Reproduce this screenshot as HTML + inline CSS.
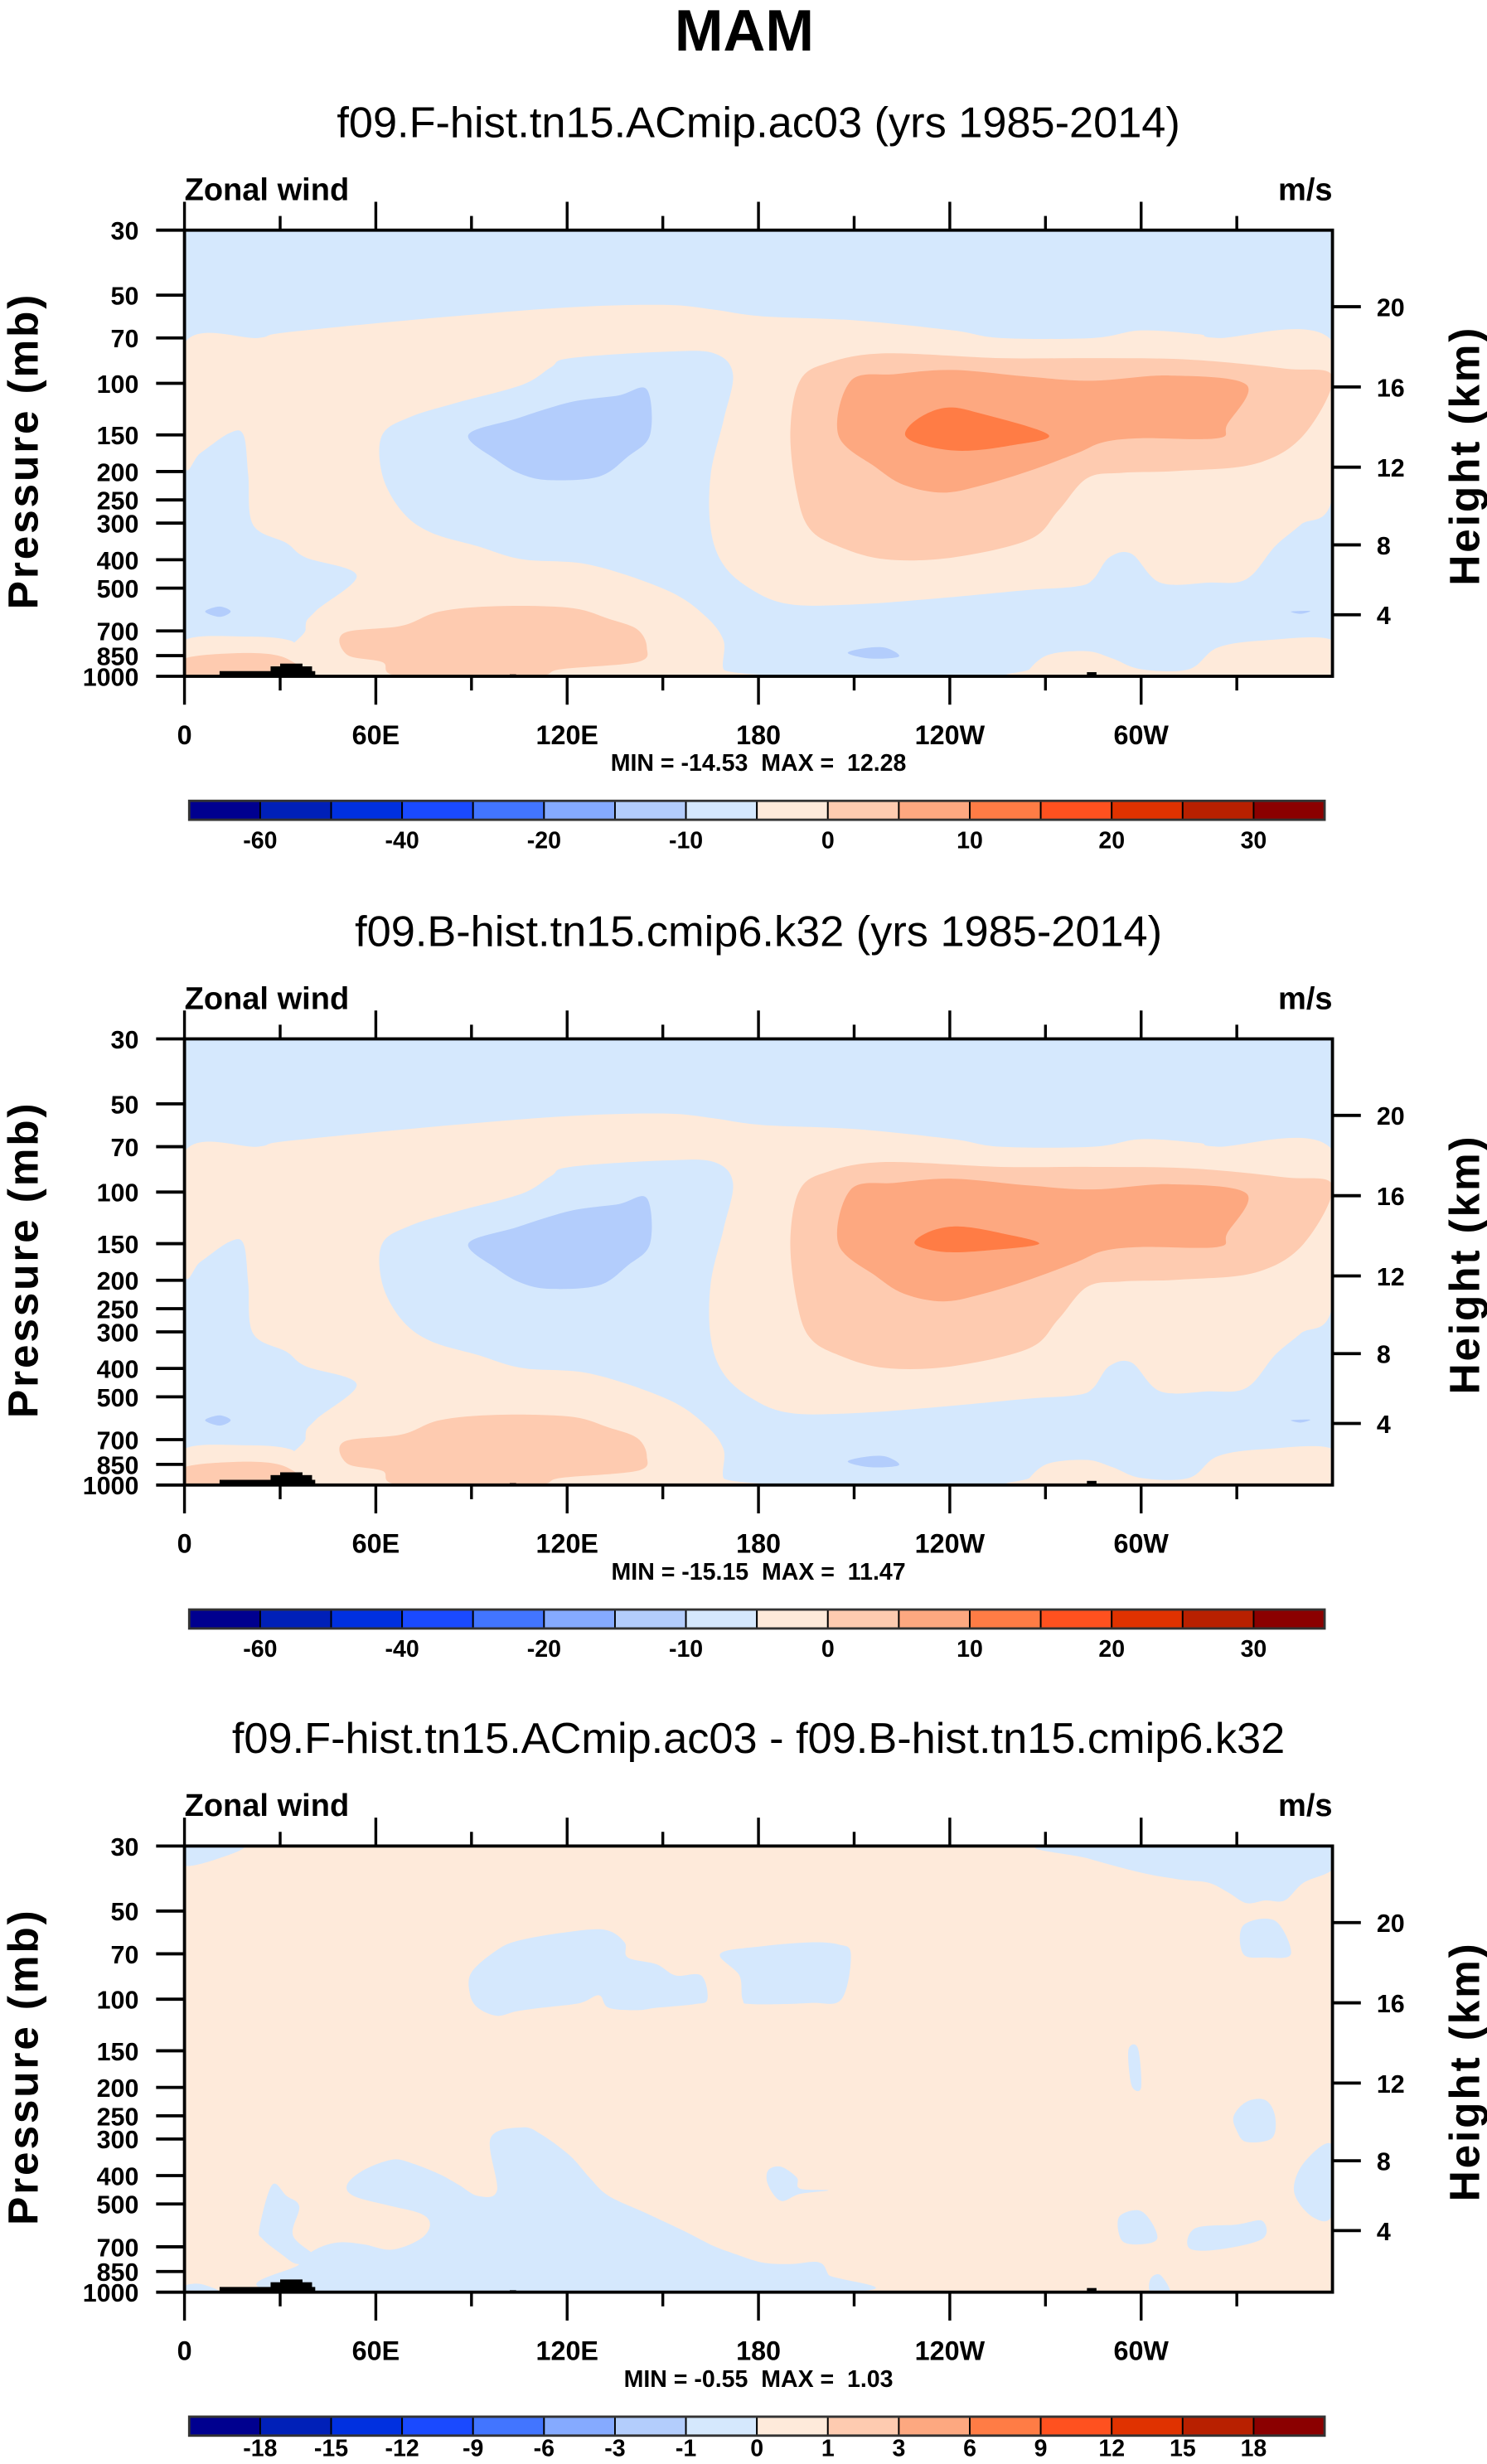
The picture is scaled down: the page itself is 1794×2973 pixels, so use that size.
<!DOCTYPE html>
<html><head><meta charset="utf-8"><style>
html,body{margin:0;padding:0;background:#fff;}
svg{display:block;}
text{font-family:"Liberation Sans",Arial,sans-serif;fill:#000;white-space:pre;}
</style></head><body>
<svg id="fig" xmlns="http://www.w3.org/2000/svg" width="1794" height="2973" viewBox="0 0 943 1563" preserveAspectRatio="none">
<text x="472" y="32" text-anchor="middle" font-size="37" font-weight="bold">MAM</text>
</svg>
<script>
// ---------- data ----------
const lonTicks = [0, 60, 120, 180, 240, 300];
const lonLabels = ["0", "60E", "120E", "180", "120W", "60W"];
const presTicks = [30, 50, 70, 100, 150, 200, 250, 300, 400, 500, 700, 850, 1000];
const heightTicks = [20, 16, 12, 8, 4];
const cbColors = ["#00008f","#0020b8","#0030e0","#1a4aff","#4275ff","#85aaff","#b3cdfc","#d5e8fd","#feeada","#fecbb0","#fda880","#ff7c45","#ff511f","#e03200","#b82000","#8b0000"];
const cbLabelsAbs = ["-60","","-40","","-20","","-10","","0","","10","","20","","30"];
const cbLabelsDiff = ["-18","-15","-12","-9","-6","-3","-1","0","1","3","6","9","12","15","18"];
const titles = ["f09.F-hist.tn15.ACmip.ac03 (yrs 1985-2014)","f09.B-hist.tn15.cmip6.k32 (yrs 1985-2014)","f09.F-hist.tn15.ACmip.ac03 - f09.B-hist.tn15.cmip6.k32"];
const minVals = ["-14.53","-15.15","-0.55"];
const maxVals = ["12.28","11.47","1.03"];
// contour regions [lon, pressure]
const peachMain = [[0,73],[23,70],[32,67],[77,60],[121,55],[151,54],[166,56],[181,59],[211,61],[241,66],[256,70],[285,70],[300,66],[318,68],[324,70],[360,72],[360,243],[350,304],[342,360],[333,466],[321,479],[306,479],[297,382],[290,393],[285,466],[280,493],[265,507],[241,536],[211,568],[190,568],[178,507],[169,416],[165,313],[165,205],[169,134],[172,93],[166,79],[151,78],[121,82],[115,88],[106,101],[86,116],[71,130],[62,150],[62,205],[68,272],[77,322],[92,360],[106,399],[127,416],[151,507],[163,618],[169,754],[169,946],[174,1000],[41,1000],[38,692],[41,601],[54,453],[38,393],[32,351],[21.5,304],[20,205],[18.5,150],[14,148],[5,173],[0,188]];
const peachBL = [[0,754],[20,732],[33,754],[36,832],[38,1000],[0,1000]];
const peachBR = [[265,946],[271,844],[283,821],[291,869],[300,946],[315,946],[324,798],[339,754],[360,754],[360,1000],[265,1000]];
const salmonUpper = [[190,146],[193,98],[202,85],[220,79],[256,82],[285,82],[315,83],[345,89],[360,95],[351,150],[336,188],[312,199],[294,202],[283,211],[274,272],[265,341],[241,393],[220,399],[205,360],[196,313],[192,236]];
const salmonLower = [[50,712],[68,673],[80,601],[98,576],[121,584],[133,636],[142,692],[145,798],[142,894],[118,946],[109,1000],[68,1000],[62,894],[51,844]];
const salmonBL = [[0,869],[20,832],[32,869],[35,1000],[0,1000]];
const darkSalmon = [[205,150],[209,98],[223,93],[241,90],[265,95],[285,98],[309,94],[333,101],[327,138],[324,154],[300,154],[288,159],[280,173],[265,199],[250,223],[238,236],[226,223],[217,194]];
const orangeCore1 = [[226,150],[230,132],[239,121],[250,127],[271,150],[259,163],[244,170],[232,163]];
const orangeCore2 = [[229,150],[234,136],[243,131],[256,138],[268,150],[252,158],[238,160]];
const blueCore = [[89,150],[104,132],[121,116],[136,110],[145,105],[146,150],[139,178],[130,208],[115,214],[106,205],[98,183]];
const blueDot1 = [[208,832],[214,800],[220,800],[224,856],[215,869]];
const blueDot2 = [[6.5,601],[11,578],[14.5,601],[11,627]];
const blueDot3 = [[347,601],[353,598],[350,612]];
const diffBlue = [
 [[0,30],[18.5,30],[11,33],[0,35]],
 [[271,30],[360,30],[360,36],[351,40],[345,46],[339,46],[333,47],[327,43],[321,40],[312,39],[300,37],[283,33]],
 [[332,56],[342,54],[347,70],[339,72],[332,70]],
 [[89.5,96],[90,81],[98,68],[105,63],[120,59],[132,58],[138,64],[139,72],[148,76],[154,83],[162,83],[164,100],[160,104],[148,107],[142,109],[133,107],[130,97],[124,103],[112,107],[104,110],[98,114],[92,107]],
 [[168,70],[181,66],[196,64],[205,65],[209,70],[206,100],[196,103],[178,104],[175,100],[174,83]],
 [[296,149],[299,147],[300,200],[297,197]],
 [[329,251],[333,224],[339,221],[342,251],[341,298],[333,307],[330,281]],
 [[360,315],[351,362],[348,456],[354,556],[360,539]],
 [[35,1000],[36,802],[41,716],[48,677],[56,686],[65,716],[74,658],[77,588],[74,539],[63,503],[53,469],[51,430],[56,384],[65,353],[71,362],[80,396],[86,430],[92,469],[98,449],[96,298],[106,274],[112,290],[121,343],[127,406],[133,469],[145,539],[157,621],[166,696],[172,736],[181,791],[190,802],[199,791],[202,874],[205,1000]],
 [[23.5,605],[27.5,430],[32,469],[36,510],[34,640],[41,758],[35.5,802],[30,736],[24.5,658]],
 [[183,384],[187,373],[192,406],[193,443],[202,449],[193,462],[187,488],[183,430]],
 [[293,556],[299,525],[303,571],[305,658],[300,686],[294,667]],
 [[317,605],[330,588],[338,571],[338,658],[324,716],[315,706]],
 [[303,899],[306,874],[309,1000],[303,1000]],
 [[0,1000],[0,951],[5,938],[11,1000]]
];
// topography blocks [lonStart, lonEnd, topPressure]
const topoBlocks = [[11,41,960],[27,40,925],[30,37,905],[102,104,985],[283,286,968],[281,311,990]];

// ---------- helpers ----------
const NS = "http://www.w3.org/2000/svg";
const svg = document.getElementById("fig");
const X0 = 117, X1 = 845, PH = 283;
const panelTops = [146, 659, 1171];
function xScale(lon){ return X0 + lon/360*(X1-X0); }
function yScale(p, top){ return top + Math.log(p/30)/Math.log(1000/30)*PH; }
function heightToP(z){ const m=z*1000; return m<=11000 ? 1013.25*Math.pow(1-2.25577e-5*m,5.25588) : 226.32*Math.exp(-(m-11000)/6341.6); }
function el(tag, attrs, parent){ const e=document.createElementNS(NS,tag); for(const k in attrs) e.setAttribute(k,attrs[k]); (parent||svg).appendChild(e); return e; }
function txt(x,y,s,size,weight,anchor,parent){ const t=el("text",{x:x,y:y,"font-size":size,"font-weight":weight,"text-anchor":anchor},parent); t.textContent=s; return t; }
function smoothPath(pts){
  const n=pts.length; let d="M"+pts[0][0].toFixed(1)+","+pts[0][1].toFixed(1);
  for(let i=0;i<n;i++){
    const p0=pts[(i-1+n)%n],p1=pts[i],p2=pts[(i+1)%n],p3=pts[(i+2)%n];
    const c1x=p1[0]+(p2[0]-p0[0])/6,c1y=p1[1]+(p2[1]-p0[1])/6,c2x=p2[0]-(p3[0]-p1[0])/6,c2y=p2[1]-(p3[1]-p1[1])/6;
    d+="C"+c1x.toFixed(1)+","+c1y.toFixed(1)+" "+c2x.toFixed(1)+","+c2y.toFixed(1)+" "+p2[0].toFixed(1)+","+p2[1].toFixed(1);
  }
  return d+"Z";
}
function region(g, data, top, fill, name){
  const pts=data.map(d=>[xScale(d[0]), yScale(d[1],top)]);
  const p=el("path",{d:smoothPath(pts),fill:fill},g);
  
  
}

function drawPanel(i){
  const top=panelTops[i], bot=top+PH, off=top-146;
  const g=el("g",{});
  
  
  const st=txt(481,87+off,titles[i],27.5,"normal","middle",g);
  
  
  const zl=txt(117,127+off,"Zonal wind",20,"bold","start",g);
  
  
  const ul=txt(845,127+off,"m/s",20,"bold","end",g);
  
  
  const cp=el("clipPath",{id:"clip"+i},g);
  el("rect",{x:X0,y:top,width:X1-X0,height:PH},cp);
  const field=el("g",{"clip-path":"url(#clip"+i+")"},g);
  
  
  if(i<2){
    el("rect",{x:X0,y:top,width:X1-X0,height:PH,fill:"#d5e8fd"},field);
    region(field,peachMain,top,"#feeada","contour-0-5");
    region(field,peachBL,top,"#feeada","contour-0-5");
    region(field,peachBR,top,"#feeada","contour-0-5");
    region(field,salmonUpper,top,"#fecbb0","contour-5-10");
    region(field,salmonLower,top,"#fecbb0","contour-5-10");
    region(field,salmonBL,top,"#fecbb0","contour-5-10");
    region(field,darkSalmon,top,"#fda880","contour-10-15");
    region(field,i===0?orangeCore1:orangeCore2,top,"#ff7c45","contour-15-20");
    region(field,blueCore,top,"#b3cdfc","contour-minus-10");
    region(field,blueDot1,top,"#b3cdfc","contour-minus-10");
    region(field,blueDot2,top,"#b3cdfc","contour-minus-10");
    region(field,blueDot3,top,"#b3cdfc","contour-minus-10");
  } else {
    el("rect",{x:X0,y:top,width:X1-X0,height:PH,fill:"#feeada"},field);
    diffBlue.forEach(r=>region(field,r,top,"#d5e8fd","diff-negative-region"));
  }
  topoBlocks.forEach(b=>{
    const r=el("rect",{x:xScale(b[0]),y:yScale(b[2],top),width:xScale(b[1])-xScale(b[0]),height:bot-yScale(b[2],top),fill:"#000"},field);
    
    
  });
  const fr=el("rect",{x:X0,y:top,width:X1-X0,height:PH,fill:"none",stroke:"#000","stroke-width":2},g);
  
  
  for(let lon=0;lon<360;lon+=30){
    const major=lon%60===0, L=major?18:9, x=xScale(lon);
    el("line",{x1:x,y1:top,x2:x,y2:top-L,stroke:"#000","stroke-width":1.8},g);
    el("line",{x1:x,y1:bot,x2:x,y2:bot+L,stroke:"#000","stroke-width":1.8},g);
  }
  lonTicks.forEach((lon,k)=>{
    const t=txt(xScale(lon),472+off,lonLabels[k],17,"bold","middle",g);
    
    
  });
  presTicks.forEach(p=>{
    const y=yScale(p,top);
    el("line",{x1:X0-18,y1:y,x2:X0,y2:y,stroke:"#000","stroke-width":2},g);
    const t=txt(88,y+6,String(p),16,"bold","end",g);
    
    
  });
  heightTicks.forEach(h=>{
    const y=yScale(heightToP(h),top);
    el("line",{x1:X1,y1:y,x2:X1+18,y2:y,stroke:"#000","stroke-width":2},g);
    const t=txt(873,y+6,String(h),16,"bold","start",g);
    
    
  });
  const yl=txt(0,0,"Pressure (mb)",27,"bold","middle",g);
  yl.setAttribute("transform","translate(24,"+(top+140)+") rotate(-90)");
  yl.setAttribute("letter-spacing","1.5");
  
  
  const yr=txt(0,0,"Height (km)",27,"bold","middle",g);
  yr.setAttribute("transform","translate(938,"+(top+143)+") rotate(-90)");
  yr.setAttribute("letter-spacing","1.5");
  
  
  const mm=txt(481,489+off,"MIN = "+minVals[i]+"  MAX =  "+maxVals[i],15,"bold","middle",g);
  
  
  const cb=el("g",{},g);
  
  
  const cy=508+off, bw=45;
  cbColors.forEach((c,k)=>{
    const r=el("rect",{x:120+k*bw,y:cy,width:bw,height:12,fill:c,stroke:"#000","stroke-width":1},cb);
    
    
  });
  el("rect",{x:120,y:cy,width:16*bw,height:12,fill:"none",stroke:"#333","stroke-width":1.5},cb);
  const labs=i<2?cbLabelsAbs:cbLabelsDiff;
  const ly=(i<2?538:533)+off;
  labs.forEach((s,k)=>{
    if(!s) return;
    const t=txt(120+(k+1)*bw,ly,s,15,"bold","middle",cb);
    
    
  });
}
[0,1,2].forEach(drawPanel);
</script>
</body></html>
